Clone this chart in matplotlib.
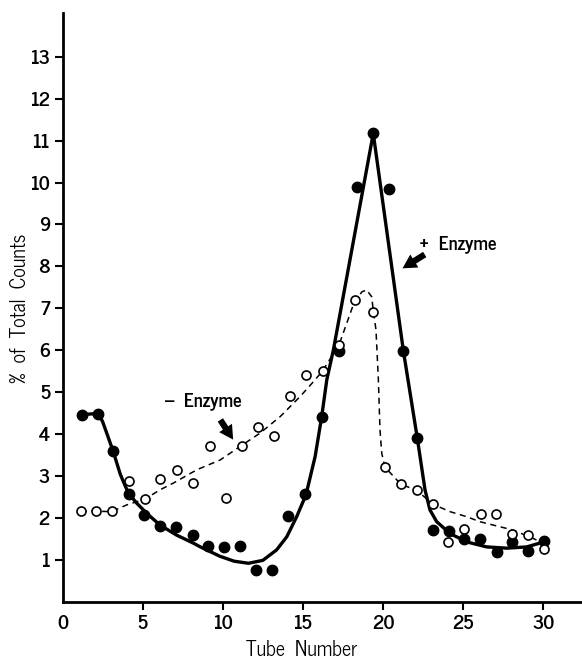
import matplotlib
matplotlib.use('Agg')
import matplotlib.pyplot as plt
from matplotlib import font_manager

# News Gothic style face if available, else some narrow sans
names = {f.name for f in font_manager.fontManager.ttflist}
wanted = ['News Cycle', 'PT Sans Narrow', 'Archivo Narrow', 'Roboto Condensed',
          'Fira Sans Condensed', 'Barlow Condensed', 'DejaVu Sans']
FONT = next(n for n in wanted if n in names)
plt.rcParams['font.family'] = [FONT, 'DejaVu Sans']

# + Enzyme (filled circles), positions
plus_x = [1.19, 2.23, 3.13, 4.14, 5.10, 6.08, 7.08, 8.12, 9.10, 10.10,
          11.07, 12.07, 13.09, 14.09, 15.16, 16.21, 17.25, 18.36, 19.39, 20.37,
          21.27, 22.14, 23.10, 24.12, 25.06, 26.07, 27.10, 28.05, 29.07, 30.05]
plus_y = [4.46, 4.49, 3.61, 2.58, 2.08, 1.82, 1.80, 1.60, 1.34, 1.32,
          1.35, 0.77, 0.77, 2.06, 2.57, 4.41, 5.99, 9.89, 11.17, 9.85,
          5.99, 3.91, 1.72, 1.70, 1.52, 1.51, 1.19, 1.44, 1.23, 1.47]

# - Enzyme (open circles)
minus_x = [1.13, 2.08, 3.06, 4.14, 5.16, 6.08, 7.12, 8.16, 9.20, 10.18,
           11.22, 12.22, 13.21, 14.19, 15.19, 16.24, 17.25, 18.25, 19.36, 20.12,
           21.12, 22.10, 23.10, 24.08, 25.07, 26.10, 27.05, 28.07, 29.07, 30.05]
minus_y = [2.17, 2.18, 2.17, 2.89, 2.45, 2.93, 3.15, 2.84, 3.72, 2.48,
           3.72, 4.18, 3.96, 4.92, 5.42, 5.52, 6.13, 7.20, 6.92, 3.22,
           2.81, 2.67, 2.34, 1.43, 1.74, 2.10, 2.10, 1.63, 1.60, 1.27]

# hand-drawn curves
plus_curve_x = [1.19, 2.23, 2.5, 2.8, 3.16, 3.6, 4.10, 4.63, 5.25, 6.08, 7.12, 8.16, 8.6,
                9.8, 10.7, 11.6, 12.5, 13.36, 13.99, 14.61, 15.19, 15.76, 16.17,
                16.49, 16.9, 19.39, 21.27, 22.14, 22.62, 22.93, 23.35, 24.18,
                25.22, 26.47, 27.72, 28.97, 30.05]
plus_curve_y = [4.47, 4.50, 4.30, 3.98, 3.59, 3.05, 2.60, 2.36, 2.12, 1.84, 1.60, 1.41, 1.32,
                1.10, 0.98, 0.93, 1.00, 1.25, 1.56, 2.04, 2.56, 3.47, 4.42,
                5.30, 6.01, 11.17, 5.99, 3.91, 2.68, 2.20, 1.92, 1.64,
                1.44, 1.32, 1.29, 1.32, 1.44]

minus_curve_x = [1.13, 2.08, 3.06, 4.0, 5.14, 6.08, 6.91, 8.16, 8.58, 9.83, 11.07,
                 12.32, 13.57, 14.82, 15.76, 16.24, 17.25, 18.25, 18.7, 18.98, 19.29,
                 19.39, 19.56, 19.71, 19.81, 19.92, 20.12, 21.12, 22.1, 23.1, 24.18,
                 25.22, 26.05, 27.3, 28.13, 29.38, 30.0]
minus_curve_y = [2.17, 2.17, 2.16, 2.32, 2.46, 2.68, 2.84, 3.11, 3.19, 3.39, 3.71,
                 4.03, 4.42, 4.90, 5.30, 5.52, 6.13, 7.20, 7.40, 7.44, 7.28,
                 6.96, 6.49, 5.30, 4.11, 3.55, 3.22, 2.81, 2.67, 2.34, 2.16,
                 2.04, 1.92, 1.80, 1.72, 1.52, 1.41]

x_ticks = [0, 5, 10, 15, 20, 25, 30]
y_ticks = list(range(1, 14))

fig = plt.figure(figsize=(5.82, 6.59), dpi=100)
ax = fig.add_axes([0.1076, 0.086, 0.8924, 0.8938])

# curves first, markers on top
ax.plot(plus_curve_x, plus_curve_y, color='black', lw=2.4, solid_joinstyle='round', zorder=2)
ax.plot(minus_curve_x, minus_curve_y, color='black', lw=1.1, dashes=(4, 3), zorder=2)
ax.plot(plus_x, plus_y, 'o', color='black', ms=7.5, zorder=3)
ax.plot(minus_x, minus_y, 'o', mfc='white', mec='black', mew=1.2, ms=6.5, zorder=4)

# labels with arrows
arrow = dict(arrowstyle='simple,head_length=1.0,head_width=1.1,tail_width=0.45',
             color='black', lw=0)
ax.annotate('', xy=(10.74, 3.82), xytext=(9.75, 4.40), arrowprops=arrow)
ax.text(6.4, 4.77, '\u2013  Enzyme', fontsize=13.5, va='center', ha='left', fontweight='bold')
ax.annotate('', xy=(21.07, 7.92), xytext=(22.75, 8.32), arrowprops=arrow)
ax.text(22.3, 8.51, '+  Enzyme', fontsize=13.5, va='center', ha='left', fontweight='bold')

ax.set_xlim(0, 32.42)
ax.set_ylim(0, 14.03)
ax.set_xticks(x_ticks)
ax.set_yticks(y_ticks)
ax.tick_params(labelsize=14, width=1.5, length=6, direction='out', pad=3)
for lbl in ax.get_xticklabels() + ax.get_yticklabels():
    lbl.set_fontweight('bold')
ax.xaxis.get_major_ticks()[0].tick1line.set_visible(False)

for side in ['top', 'right']:
    ax.spines[side].set_visible(False)
for side in ['left', 'bottom']:
    ax.spines[side].set_linewidth(2)

ax.set_xlabel('Tube  Number', fontsize=14.5)
ax.xaxis.set_label_coords(0.46, -0.081)
ax.xaxis.label.set_va('center')
ax.set_ylabel('%  of  Total  Counts', fontsize=14.5)
ax.yaxis.set_label_coords(-0.082, 0.5)
ax.yaxis.label.set_va('center')

plt.savefig('out.png', dpi=100)
